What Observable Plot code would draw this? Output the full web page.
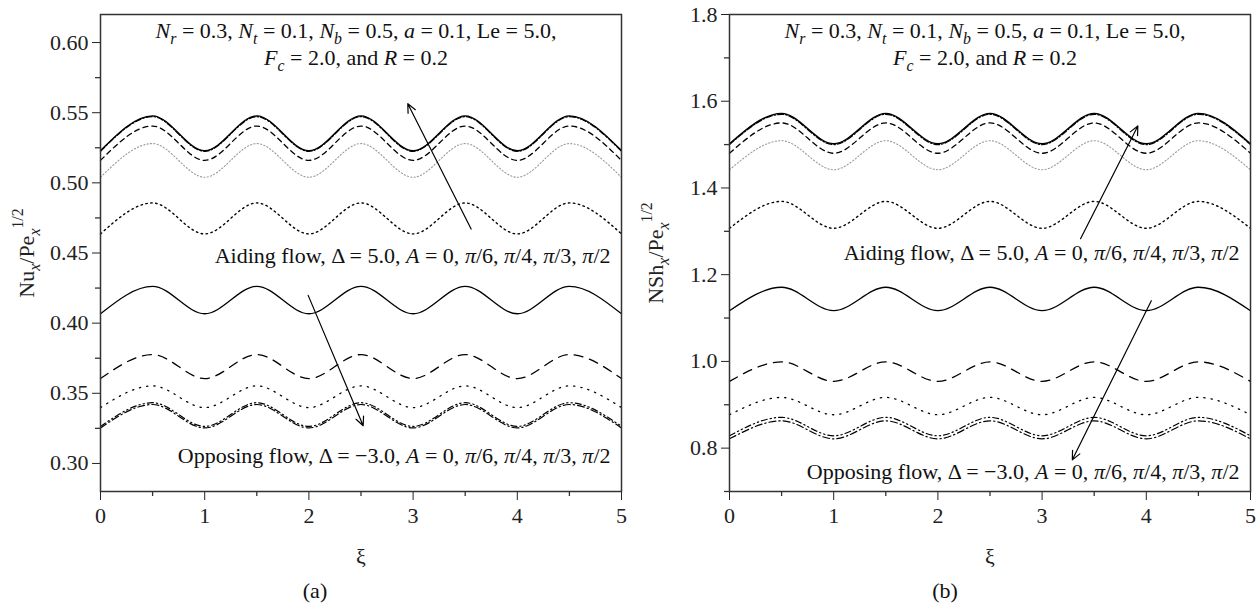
<!DOCTYPE html>
<html><head><meta charset="utf-8">
<script src="https://cdn.jsdelivr.net/npm/d3@7"></script>
<script src="https://cdn.jsdelivr.net/npm/@observablehq/plot@0.6"></script>
<style>
body{margin:0;background:#fff;}
#wrap{display:flex;width:1259px;height:603px;overflow:hidden;}
</style></head><body><div id="wrap"></div>
<script>
// ---------- data ----------
const xi = [0, 0.5, 1, 1.5, 2, 2.5, 3, 3.5, 4, 4.5, 5];

// (a) Nu_x / Pe_x^1/2
const nuAidSolid   = [.5230,.5478,.5230,.5478,.5230,.5478,.5230,.5478,.5230,.5478,.5230];
const nuAidDashDot = [.5225,.5472,.5225,.5472,.5225,.5472,.5225,.5472,.5225,.5472,.5225];
const nuAidDash    = [.5160,.5405,.5160,.5405,.5160,.5405,.5160,.5405,.5160,.5405,.5160];
const nuAidGray    = [.5040,.5280,.5040,.5280,.5040,.5280,.5040,.5280,.5040,.5280,.5040];
const nuAidDot     = [.4636,.4857,.4636,.4857,.4636,.4857,.4636,.4857,.4636,.4857,.4636];
const nuOppSolid   = [.4067,.4262,.4067,.4262,.4067,.4262,.4067,.4262,.4067,.4262,.4067];
const nuOppLong    = [.3605,.3776,.3605,.3776,.3605,.3776,.3605,.3776,.3605,.3776,.3605];
const nuOppDot     = [.3398,.3553,.3398,.3553,.3398,.3553,.3398,.3553,.3398,.3553,.3398];
const nuOppDDD     = [.3264,.3433,.3264,.3433,.3264,.3433,.3264,.3433,.3264,.3433,.3264];
const nuOppDD      = [.3253,.3420,.3253,.3420,.3253,.3420,.3253,.3420,.3253,.3420,.3253];

// (b) NSh_x / Pe_x^1/2
const shAidSolid   = [1.502,1.572,1.502,1.572,1.502,1.572,1.502,1.572,1.502,1.572,1.502];
const shAidDashDot = [1.500,1.570,1.500,1.570,1.500,1.570,1.500,1.570,1.500,1.570,1.500];
const shAidDash    = [1.480,1.550,1.480,1.550,1.480,1.550,1.480,1.550,1.480,1.550,1.480];
const shAidGray    = [1.442,1.509,1.442,1.509,1.442,1.509,1.442,1.509,1.442,1.509,1.442];
const shAidDot     = [1.307,1.369,1.307,1.369,1.307,1.369,1.307,1.369,1.307,1.369,1.307];
const shOppSolid   = [1.117,1.171,1.117,1.171,1.117,1.171,1.117,1.171,1.117,1.171,1.117];
const shOppLong    = [0.954,0.999,0.954,0.999,0.954,0.999,0.954,0.999,0.954,0.999,0.954];
const shOppDot     = [0.877,0.917,0.877,0.917,0.877,0.917,0.877,0.917,0.877,0.917,0.877];
const shOppDDD     = [0.8285,0.871,0.8285,0.871,0.8285,0.871,0.8285,0.871,0.8285,0.871,0.8285];
const shOppDD      = [0.8215,0.863,0.8215,0.863,0.8215,0.863,0.8215,0.863,0.8215,0.863,0.8215];

// ticks
const xMajor = [0, 1, 2, 3, 4, 5];
const xMinor = [0.5, 1.5, 2.5, 3.5, 4.5];
const nuMajor = [0.30, 0.35, 0.40, 0.45, 0.50, 0.55, 0.60];
const nuMinor = [0.325, 0.375, 0.425, 0.475, 0.525, 0.575];
const shMajor = [0.8, 1.0, 1.2, 1.4, 1.6, 1.8];
const shMinor = [0.7, 0.9, 1.1, 1.3, 1.5, 1.7];

// arrows (data coordinates)
const nuArrows = [
  {x1: 3.557, y1: 0.4671, x2: 2.949, y2: 0.5564},
  {x1: 1.993, y1: 0.4198, x2: 2.521, y2: 0.3269}
];
const shArrows = [
  {x1: 3.369, y1: 1.283, x2: 3.919, y2: 1.543},
  {x1: 4.048, y1: 1.140, x2: 3.290, y2: 0.773}
];

// texts
const paramLine1 = "<i>N</i><sub><i>r</i></sub> = 0.3, <i>N</i><sub><i>t</i></sub> = 0.1, <i>N</i><sub><i>b</i></sub> = 0.5, <i>a</i> = 0.1, Le = 5.0,";
const paramLine2 = "<i>F</i><sub><i>c</i></sub> = 2.0, and <i>R</i> = 0.2";
const aidLabel = "Aiding flow, Δ = 5.0, <i>A</i> = 0, <i>π</i>/6, <i>π</i>/4, <i>π</i>/3, <i>π</i>/2";
const oppLabel = "Opposing flow, Δ = −3.0, <i>A</i> = 0, <i>π</i>/6, <i>π</i>/4, <i>π</i>/3, <i>π</i>/2";
const nuYLabel = "Nu<sub><i>x</i></sub>/Pe<sub><i>x</i></sub><sup>1/2</sup>";
const shYLabel = "NSh<sub><i>x</i></sub>/Pe<sub><i>x</i></sub><sup>1/2</sup>";

// ---------- styles ----------
const lineStyles = {
  solid:   {stroke: "#000", width: 1.3, dash: null},
  dashdot: {stroke: "#000", width: 1.3, dash: "6,2,1.5,2"},
  dash:    {stroke: "#000", width: 1.3, dash: "5,4"},
  gray:    {stroke: "#9a9a9a", width: 1.1, dash: "1.2,2.2"},
  dot:     {stroke: "#000", width: 1.4, dash: "1.5,3.5"},
  long:    {stroke: "#000", width: 1.3, dash: "9,7"},
  sdot:    {stroke: "#000", width: 1.3, dash: "1.3,6"},
  ddd:     {stroke: "#000", width: 1.2, dash: "6,3,1.3,3,1.3,3"},
  dd:      {stroke: "#000", width: 1.2, dash: "7,3,1.3,3"}
};

const FS = 22;

function panel(cfg) {
  const W = cfg.width, H = 603, mT = 14, mB = 112, mL = cfg.marginLeft, mR = cfg.marginRight;
  const fw = W - mL - mR, fh = H - mT - mB;
  const marks = [];
  for (const s of cfg.series) {
    const st = lineStyles[s.style];
    const opts = {x: "x", y: "y", curve: "monotone-x", stroke: st.stroke, strokeWidth: st.width};
    if (st.dash) opts.strokeDasharray = st.dash;
    marks.push(Plot.line(xi.map((x, i) => ({x, y: s.values[i]})), opts));
  }
  marks.push(Plot.frame({stroke: "#333", strokeWidth: 1.5}));
  marks.push(Plot.ruleX(xMinor, {x: d => d, insetTop: fh, insetBottom: -5, stroke: "#333", strokeWidth: 1.3}));
  marks.push(Plot.ruleY(cfg.yMinor, {y: d => d, insetLeft: -5, insetRight: fw, stroke: "#333", strokeWidth: 1.3}));
  marks.push(Plot.arrow(cfg.arrows, {x1: "x1", y1: "y1", x2: "x2", y2: "y2", bend: 0, headLength: 12, headAngle: 50, stroke: "#000", strokeWidth: 1.2}));
  const t = {text: d => d, lineAnchor: "middle", fill: "#111"};
  marks.push(Plot.text([paramLine1], {...t, frameAnchor: "top", dx: -5, dy: 16}));
  marks.push(Plot.text([paramLine2], {...t, frameAnchor: "top", dx: -5, dy: 43}));
  marks.push(Plot.text([aidLabel], {...t, frameAnchor: "right", textAnchor: "end", dx: -11, dy: cfg.aidDy}));
  marks.push(Plot.text([oppLabel], {...t, frameAnchor: "bottom-right", textAnchor: "end", dx: -11, dy: cfg.oppDy}));
  marks.push(Plot.text([cfg.caption], {...t, frameAnchor: "bottom", dx: cfg.capDx, dy: 99}));
  return Plot.plot({
    width: W, height: H,
    marginLeft: mL, marginRight: mR, marginTop: mT, marginBottom: mB,
    style: {fontFamily: "'Liberation Serif', serif", fontSize: FS + "px", color: "#222", background: "white", overflow: "visible"},
    x: {domain: [0, 5], ticks: xMajor, tickFormat: d => String(d), tickSize: 9, tickPadding: 7,
        label: "ξ", labelAnchor: "center", labelOffset: 72, labelArrow: false},
    y: {domain: cfg.yDomain, ticks: cfg.yMajor, tickFormat: cfg.yFormat, tickSize: 8, tickPadding: 4,
        label: cfg.yLabel, labelAnchor: "center", labelOffset: 82, labelArrow: false},
    marks
  });
}

function richify(root) {
  root.querySelectorAll("text").forEach(t => {
    let s = t.textContent;
    if (!/<(i|sub|sup)>/.test(s)) return;
    s = s.replace(/^[↑→←↓]\s*/, "").replace(/\s*[↑→←↓]$/, "");
    const fs = parseFloat(getComputedStyle(t).fontSize) || FS;
    while (t.firstChild) t.removeChild(t.firstChild);
    let italic = 0, shift = 0, cur = 0;
    for (const p of s.split(/(<\/?(?:i|sub|sup)>)/)) {
      if (!p) continue;
      if (p === "<i>") { italic++; continue; }
      if (p === "</i>") { italic--; continue; }
      if (p === "<sub>") { shift = 1; continue; }
      if (p === "<sup>") { shift = -1; continue; }
      if (p === "</sub>" || p === "</sup>") { shift = 0; continue; }
      const ts = document.createElementNS("http://www.w3.org/2000/svg", "tspan");
      const target = shift === 1 ? 0.28 * fs : shift === -1 ? -0.5 * fs : 0;
      if (target !== cur) { ts.setAttribute("dy", (target - cur).toFixed(2)); cur = target; }
      if (italic) ts.setAttribute("font-style", "italic");
      if (shift) ts.setAttribute("font-size", (0.72 * fs).toFixed(2));
      ts.textContent = p;
      t.appendChild(ts);
    }
  });
}

const wrap = document.getElementById("wrap");
const left = panel({
  width: 630, marginLeft: 100, marginRight: 9,
  yDomain: [0.28, 0.62], yMajor: nuMajor, yMinor: nuMinor, yFormat: d3.format(".2f"),
  yLabel: nuYLabel, arrows: nuArrows, caption: "(a)", capDx: -46, aidDy: 3, oppDy: -36,
  series: [
    {values: nuAidDot, style: "dot"}, {values: nuAidGray, style: "gray"},
    {values: nuAidDash, style: "dash"}, {values: nuAidDashDot, style: "dashdot"},
    {values: nuAidSolid, style: "solid"},
    {values: nuOppSolid, style: "solid"}, {values: nuOppLong, style: "long"},
    {values: nuOppDot, style: "sdot"}, {values: nuOppDDD, style: "ddd"},
    {values: nuOppDD, style: "dd"}
  ]
});
const right = panel({
  width: 629, marginLeft: 99, marginRight: 9,
  yDomain: [0.7, 1.8], yMajor: shMajor, yMinor: shMinor, yFormat: d3.format(".1f"),
  yLabel: shYLabel, arrows: shArrows, caption: "(b)", capDx: -45, aidDy: 0, oppDy: -20,
  series: [
    {values: shAidDot, style: "dot"}, {values: shAidGray, style: "gray"},
    {values: shAidDash, style: "dash"}, {values: shAidDashDot, style: "dashdot"},
    {values: shAidSolid, style: "solid"},
    {values: shOppSolid, style: "solid"}, {values: shOppLong, style: "long"},
    {values: shOppDot, style: "sdot"}, {values: shOppDDD, style: "ddd"},
    {values: shOppDD, style: "dd"}
  ]
});
wrap.appendChild(left);
wrap.appendChild(right);
richify(left);
richify(right);
</script>
</body></html>
